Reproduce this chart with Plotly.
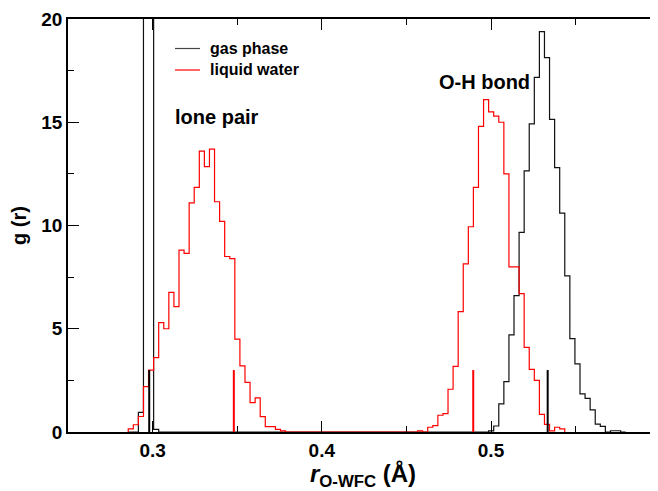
import numpy as np
import plotly.graph_objects as go

# ---- data ----
BIN_START = 0.2856      # left edge of first histogram bin (Å)
BIN_WIDTH = 0.003       # histogram bin width (Å)

# liquid water, g(r) per bin (bins 0..85)
liquid_water = [
    0.15, 0.35, 0.75, 2.2, 3.0, 3.6, 5.3, 5.0, 6.76, 6.07,
    8.81, 8.65, 11.1, 11.85, 13.6, 12.85, 13.7, 11.15, 10.2, 8.5,
    8.4, 4.5, 3.2, 2.4, 1.42, 1.65, 0.74, 0.26, 0.26, 0.13,
    0.05, 0, 0, 0, 0, 0, 0, 0, 0, 0,
    0, 0, 0, 0, 0, 0, 0, 0, 0, 0,
    0, 0, 0, 0, 0, 0, 0, 0.05, 0, 0.23,
    0.31, 0.81, 0.89, 2.07, 3.18, 5.83, 8.14, 9.94, 11.85, 14.8,
    16.1, 15.5, 15.3, 15.0, 12.5, 8.0, 8.0, 6.7, 4.1, 3.03,
    2.5, 0.85, 0.37, 0.05, 0.23, 0.15,
]

# gas phase, g(r) per bin (bins 0..97); the lone-pair spike runs off the top
gas_phase = [
    0, 0, 0.95, 40, 40, 0.13, 0, 0, 0, 0,
    0, 0, 0, 0, 0, 0, 0, 0, 0, 0,
    0, 0, 0, 0, 0, 0, 0, 0, 0, 0,
    0, 0, 0, 0, 0, 0, 0, 0, 0, 0,
    0, 0, 0, 0, 0, 0, 0, 0, 0, 0,
    0, 0, 0, 0, 0, 0, 0, 0, 0, 0,
    0, 0, 0, 0, 0, 0, 0, 0, 0, 0,
    0, 0.05, 0.29, 1.36, 2.44, 4.7, 6.6, 9.67, 12.65, 14.92,
    17.17, 19.39, 18.13, 15.14, 12.8, 10.6, 7.56, 4.52, 3.3, 1.85,
    1.63, 1.07, 0.38, 0.27, 0, 0.06, 0.06, 0,
]

# short vertical reference lines
gas_markers = [0.298, 0.5335]
liquid_markers = [0.348, 0.4895]
marker_height = 3

x_ticks = [0.3, 0.4, 0.5]
y_ticks = [0, 5, 10, 15, 20]

FONT = "Liberation Sans"


def step_xy(values):
    edges = BIN_START + BIN_WIDTH * np.arange(len(values) + 1)
    xs = np.concatenate([[edges[0]], edges])
    ys = np.concatenate([[0], values, [0]])
    return xs, ys


fig = go.Figure()

gx, gy = step_xy(gas_phase)
fig.add_trace(go.Scatter(x=gx, y=gy, mode="lines", line=dict(color="#111111", width=1.2, shape="hv"),
                         name="gas phase", showlegend=False))
lx, ly = step_xy(liquid_water)
fig.add_trace(go.Scatter(x=lx, y=ly, mode="lines", line=dict(color="#ff0000", width=1.2, shape="hv"),
                         name="liquid water", showlegend=False))

for m in gas_markers:
    fig.add_trace(go.Scatter(x=[m, m], y=[0, marker_height], mode="lines",
                             line=dict(color="black", width=2), showlegend=False))
for m in liquid_markers:
    fig.add_trace(go.Scatter(x=[m, m], y=[0, marker_height], mode="lines",
                             line=dict(color="#ff0000", width=2), showlegend=False))

# invisible trace on a top axis so its ticks get drawn
fig.add_trace(go.Scatter(x=[0.3], y=[0], mode="markers", marker=dict(opacity=0),
                         xaxis="x2", yaxis="y", showlegend=False, hoverinfo="skip"))

# the page body adds an 8px offset; size the figure so the plot lands where the reference has it
OFF = 8
W, H = 658 - OFF, 491 - OFF
L, R, T, B = 68 - OFF, 0, 19 - OFF, 59
px_per_unit = 1692.0
x_end = 0.25 + (W - L - R) / px_per_unit

def px2paper_x(px):  # page pixel -> paper coordinate
    return (px - OFF - L) / (W - L - R)

def px2paper_y(py):
    return (H - B - (py - OFF)) / (H - T - B)

# manual legend
for py, col, label in [(48.5, "#444444", "gas phase"), (70, "#ff0000", "liquid water")]:
    fig.add_shape(type="line", xref="paper", yref="paper",
                  x0=px2paper_x(175), x1=px2paper_x(200), y0=px2paper_y(py), y1=px2paper_y(py),
                  line=dict(color=col, width=1.2))
    fig.add_annotation(xref="paper", yref="paper", x=px2paper_x(208), y=px2paper_y(py),
                       text=label, showarrow=False, xanchor="left", yanchor="middle",
                       font=dict(family=FONT, size=16, color="black", weight="bold"))

fig.add_annotation(xref="paper", yref="paper", x=px2paper_x(173), y=px2paper_y(117),
                   text="lone pair", showarrow=False, xanchor="left", yanchor="middle",
                   font=dict(family=FONT, size=20, color="black", weight="bold"))
fig.add_annotation(xref="paper", yref="paper", x=px2paper_x(437), y=px2paper_y(82),
                   text="O-H bond", showarrow=False, xanchor="left", yanchor="middle",
                   font=dict(family=FONT, size=20, color="black", weight="bold"))

tick_style = dict(ticks="inside", ticklen=11, tickwidth=1.3, tickcolor="black")
x_minor = dict(dtick=0.05, tick0=0.25, ticks="inside", ticklen=6, tickwidth=1.3, tickcolor="black")

fig.update_layout(
    width=W, height=H,
    margin=dict(l=L, r=R, t=T, b=B, autoexpand=False),
    paper_bgcolor="white", plot_bgcolor="white",
    showlegend=False,
    font=dict(family=FONT, color="black"),
    xaxis=dict(
        range=[0.25, x_end], tickvals=x_ticks, ticktext=[f"{v:.1f}" for v in x_ticks],
        minor=x_minor, showline=True, linewidth=1.6, linecolor="black",
        showgrid=False, zeroline=False, automargin=False,
        tickfont=dict(family=FONT, size=19, color="black", weight="bold"),
        title=dict(text="<i>r</i><sub>O-WFC</sub> (Å)", standoff=9,
                   font=dict(family=FONT, size=24, color="black", weight="bold")),
        **tick_style,
    ),
    xaxis2=dict(
        overlaying="x", side="top", anchor="y", matches="x",
        range=[0.25, x_end], tickvals=x_ticks, showticklabels=False,
        minor=x_minor, showline=True, linewidth=1.6, linecolor="black",
        showgrid=False, zeroline=False, automargin=False,
        **tick_style,
    ),
    yaxis=dict(
        range=[0, 20], tickvals=y_ticks,
        minor=dict(dtick=2.5, tick0=0, ticks="inside", ticklen=6, tickwidth=1.3, tickcolor="black"),
        showline=True, linewidth=1.6, linecolor="black",
        showgrid=False, zeroline=False, automargin=False,
        tickfont=dict(family=FONT, size=19, color="black", weight="bold"),
        title=dict(text="g (r)", standoff=10,
                   font=dict(family=FONT, size=20, color="black", weight="bold")),
        **tick_style,
    ),
)

fig.write_html("out.html")
